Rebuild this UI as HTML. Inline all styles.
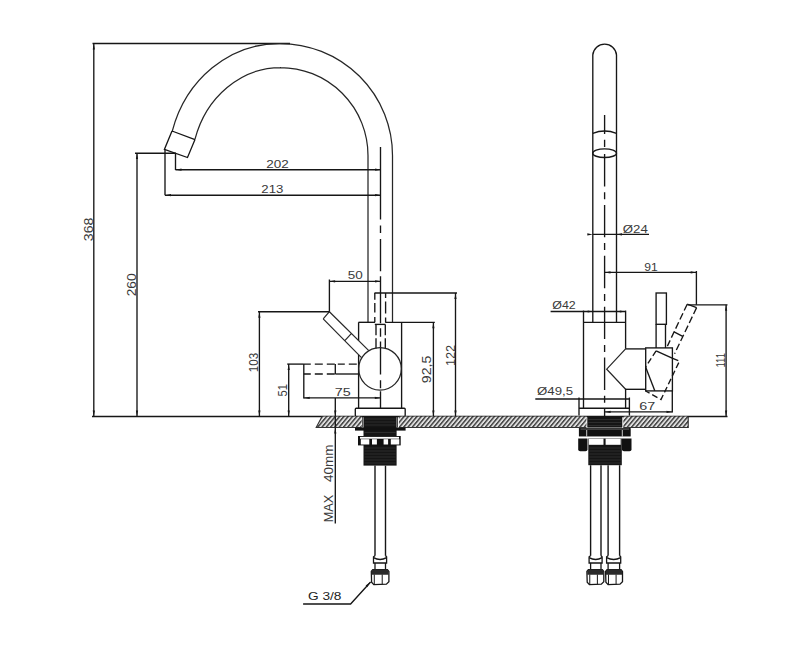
<!DOCTYPE html>
<html><head><meta charset="utf-8"><style>
html,body{margin:0;padding:0;background:#fff;}
svg{display:block;}
</style></head><body>
<svg width="800" height="669" viewBox="0 0 800 669" font-family="Liberation Sans, sans-serif">
<rect width="800" height="669" fill="#fff"/>
<line x1="92.5" y1="43.5" x2="290" y2="43.5" stroke="#161616" stroke-width="1.35"/>
<line x1="93.8" y1="43.5" x2="93.8" y2="416.5" stroke="#161616" stroke-width="1.35"/>
<polygon points="93.8,44 92.7,49.5 94.9,49.5" fill="#161616" stroke="none" stroke-width="0"/>
<polygon points="93.8,416 92.7,410.5 94.9,410.5" fill="#161616" stroke="none" stroke-width="0"/>
<text transform="translate(92.8,241.2) rotate(-90)" font-size="12.5" fill="#3a3a3a" font-family="Liberation Sans" textLength="23.5" lengthAdjust="spacingAndGlyphs">368</text>
<line x1="92" y1="416.5" x2="727.5" y2="416.5" stroke="#161616" stroke-width="1.3"/>
<path d="M172,130.9 L172.34,130.9 A111.1,120.3 0 0 1 279.2,43.5 L280,43.5 A112.5,112 0 0 1 392.5,155.5 L392.5,322.3" stroke="#262626" stroke-width="1.25" fill="none"/>
<path d="M195,139.4 L194.93,139.4 A89.5,99.6 0 0 1 280.9,67.5 L280,67.5 A88,88 0 0 1 368,155.5 L368,322.3" stroke="#262626" stroke-width="1.25" fill="none"/>
<path d="M172,131 L195,139.6 M172,131 L164.4,149.4 L187.5,157.5 L195,139.6" stroke="#161616" stroke-width="1.3" fill="none"/>
<line x1="135" y1="153.2" x2="176" y2="153.2" stroke="#161616" stroke-width="1.35"/>
<line x1="137" y1="153.2" x2="137" y2="416.5" stroke="#161616" stroke-width="1.35"/>
<polygon points="137,153.5 135.9,159 138.1,159" fill="#161616" stroke="none" stroke-width="0"/>
<polygon points="137,416 135.9,410.5 138.1,410.5" fill="#161616" stroke="none" stroke-width="0"/>
<text transform="translate(136.2,296.3) rotate(-90)" font-size="12.5" fill="#3a3a3a" font-family="Liberation Sans" textLength="23" lengthAdjust="spacingAndGlyphs">260</text>
<line x1="175.5" y1="153.2" x2="175.5" y2="170" stroke="#161616" stroke-width="1.35"/>
<line x1="175.5" y1="169.7" x2="380.6" y2="169.7" stroke="#161616" stroke-width="1.35"/>
<polygon points="380.6,169.7 375.1,168.6 375.1,170.8" fill="#161616" stroke="none" stroke-width="0"/>
<polygon points="176,169.7 181.5,168.6 181.5,170.8" fill="#161616" stroke="none" stroke-width="0"/>
<text x="266.3" y="167.8" font-size="11.5" fill="#3a3a3a" font-family="Liberation Sans" textLength="22.5" lengthAdjust="spacingAndGlyphs">202</text>
<line x1="165" y1="149.5" x2="165" y2="195.3" stroke="#161616" stroke-width="1.35"/>
<line x1="165" y1="195.2" x2="380.6" y2="195.2" stroke="#161616" stroke-width="1.35"/>
<polygon points="380.6,195.2 375.1,194.1 375.1,196.3" fill="#161616" stroke="none" stroke-width="0"/>
<polygon points="165.5,195.2 171,194.1 171,196.3" fill="#161616" stroke="none" stroke-width="0"/>
<text x="261.3" y="193.3" font-size="11.5" fill="#3a3a3a" font-family="Liberation Sans" textLength="22" lengthAdjust="spacingAndGlyphs">213</text>
<line x1="380.5" y1="147" x2="380.5" y2="416" stroke="#161616" stroke-width="1.35" stroke-dasharray="72.4 6.2 7.4 6 32.3 5 47 5 8.4 4.8 33 5.7 8 3 30" stroke-dashoffset="0"/>
<line x1="329.4" y1="279.5" x2="329.4" y2="311.8" stroke="#161616" stroke-width="1.35"/>
<line x1="329.4" y1="281.3" x2="380.6" y2="281.3" stroke="#161616" stroke-width="1.35"/>
<polygon points="380.6,281.3 375.1,280.2 375.1,282.4" fill="#161616" stroke="none" stroke-width="0"/>
<polygon points="329.6,281.3 335.1,280.2 335.1,282.4" fill="#161616" stroke="none" stroke-width="0"/>
<text x="347.7" y="278.9" font-size="11.5" fill="#3a3a3a" font-family="Liberation Sans" textLength="15" lengthAdjust="spacingAndGlyphs">50</text>
<line x1="374.5" y1="293" x2="457" y2="293" stroke="#161616" stroke-width="1.35"/>
<line x1="374.8" y1="293" x2="374.8" y2="322.3" stroke="#161616" stroke-width="1.35" stroke-dasharray="6.8 3.2 9.4 4.7 6" stroke-dashoffset="0"/>
<line x1="385.6" y1="293" x2="385.6" y2="322.3" stroke="#161616" stroke-width="1.35" stroke-dasharray="5 3.5 12 4 6" stroke-dashoffset="0"/>
<line x1="374.8" y1="324.4" x2="385.4" y2="324.4" stroke="#161616" stroke-width="1.35"/>
<line x1="376" y1="324.4" x2="376" y2="348.5" stroke="#161616" stroke-width="1.35" stroke-dasharray="10.9 2.9 12" stroke-dashoffset="0"/>
<line x1="385.3" y1="324.4" x2="385.3" y2="348.5" stroke="#161616" stroke-width="1.35" stroke-dasharray="10.9 2.9 12" stroke-dashoffset="0"/>
<line x1="358.5" y1="322.3" x2="375" y2="322.3" stroke="#161616" stroke-width="1.35"/>
<line x1="385.2" y1="322.3" x2="434.8" y2="322.3" stroke="#161616" stroke-width="1.35"/>
<line x1="358.6" y1="322.3" x2="358.6" y2="340.6" stroke="#161616" stroke-width="1.35"/>
<line x1="358.6" y1="354.8" x2="358.6" y2="408.2" stroke="#161616" stroke-width="1.35"/>
<line x1="401.6" y1="322.3" x2="401.6" y2="408.2" stroke="#161616" stroke-width="1.35"/>
<line x1="433.4" y1="322.3" x2="433.4" y2="416.5" stroke="#161616" stroke-width="1.35"/>
<polygon points="433.4,322.8 432.3,328.3 434.5,328.3" fill="#161616" stroke="none" stroke-width="0"/>
<polygon points="433.4,416 432.3,410.5 434.5,410.5" fill="#161616" stroke="none" stroke-width="0"/>
<text transform="translate(430.8,383.2) rotate(-90)" font-size="12.5" fill="#3a3a3a" font-family="Liberation Sans" textLength="27.5" lengthAdjust="spacingAndGlyphs">92,5</text>
<line x1="455.5" y1="293" x2="455.5" y2="416.5" stroke="#161616" stroke-width="1.35"/>
<polygon points="455.5,293.5 454.4,299 456.6,299" fill="#161616" stroke="none" stroke-width="0"/>
<polygon points="455.5,416 454.4,410.5 456.6,410.5" fill="#161616" stroke="none" stroke-width="0"/>
<text transform="translate(454.9,366.1) rotate(-90)" font-size="12.5" fill="#3a3a3a" font-family="Liberation Sans" textLength="21.3" lengthAdjust="spacingAndGlyphs">122</text>
<circle cx="380" cy="368.8" r="21.3" fill="none" stroke="#262626" stroke-width="1.25"/>
<path d="M329.4,311.7 L368.8,350.6 M323.2,318.9 L361.2,357.4 M329.4,311.7 L323.2,318.9 M344.8,340.7 L351.3,333.6" stroke="#2a2a2a" stroke-width="1.25" fill="none"/>
<line x1="258" y1="311.7" x2="329.4" y2="311.7" stroke="#161616" stroke-width="1.35"/>
<line x1="259.4" y1="311.7" x2="259.4" y2="416.5" stroke="#161616" stroke-width="1.35"/>
<polygon points="259.4,312.2 258.3,317.7 260.5,317.7" fill="#161616" stroke="none" stroke-width="0"/>
<polygon points="259.4,416 258.3,410.5 260.5,410.5" fill="#161616" stroke="none" stroke-width="0"/>
<text transform="translate(258.1,372.2) rotate(-90)" font-size="12.5" fill="#3a3a3a" font-family="Liberation Sans" textLength="19.3" lengthAdjust="spacingAndGlyphs">103</text>
<line x1="287.2" y1="364.1" x2="303.8" y2="364.1" stroke="#161616" stroke-width="1.35"/>
<line x1="303.8" y1="364.1" x2="358.6" y2="364.1" stroke="#161616" stroke-width="1.35" stroke-dasharray="7 4 8 4 8 3" stroke-dashoffset="0"/>
<line x1="303.8" y1="374" x2="335.3" y2="374" stroke="#161616" stroke-width="1.35" stroke-dasharray="7 4 8 4 8 3" stroke-dashoffset="0"/>
<line x1="335.3" y1="374" x2="358.6" y2="374" stroke="#161616" stroke-width="1.35"/>
<line x1="303.8" y1="364.1" x2="303.8" y2="398.5" stroke="#161616" stroke-width="1.35"/>
<line x1="335.3" y1="364.1" x2="335.3" y2="374" stroke="#161616" stroke-width="1.35"/>
<line x1="288.7" y1="364.1" x2="288.7" y2="416.5" stroke="#161616" stroke-width="1.35"/>
<polygon points="288.7,364.6 287.6,370.1 289.8,370.1" fill="#161616" stroke="none" stroke-width="0"/>
<polygon points="288.7,416 287.6,410.5 289.8,410.5" fill="#161616" stroke="none" stroke-width="0"/>
<text transform="translate(287.2,396.5) rotate(-90)" font-size="12.5" fill="#3a3a3a" font-family="Liberation Sans" textLength="12.5" lengthAdjust="spacingAndGlyphs">51</text>
<line x1="303.8" y1="397.9" x2="380.6" y2="397.9" stroke="#161616" stroke-width="1.35"/>
<polygon points="380.3,397.9 374.8,396.8 374.8,399" fill="#161616" stroke="none" stroke-width="0"/>
<polygon points="304.2,397.9 309.7,396.8 309.7,399" fill="#161616" stroke="none" stroke-width="0"/>
<text x="334.8" y="395.8" font-size="11.5" fill="#3a3a3a" font-family="Liberation Sans" textLength="16" lengthAdjust="spacingAndGlyphs">75</text>
<rect x="355.3" y="408.2" width="49.9" height="8.1" fill="#fff" stroke="#161616" stroke-width="1.35" rx="1"/>
<line x1="335.3" y1="398" x2="335.3" y2="523.6" stroke="#161616" stroke-width="1.35"/>
<polygon points="335.3,416 334.2,410.5 336.4,410.5" fill="#161616" stroke="none" stroke-width="0"/>
<polygon points="335.3,428 334.2,433.5 336.4,433.5" fill="#161616" stroke="none" stroke-width="0"/>
<text transform="translate(333.2,522.3) rotate(-90)" font-size="12.5" fill="#3a3a3a" font-family="Liberation Sans" textLength="27.5" lengthAdjust="spacingAndGlyphs">MAX</text>
<text transform="translate(333.2,482) rotate(-90)" font-size="12.5" fill="#3a3a3a" font-family="Liberation Sans" textLength="37.5" lengthAdjust="spacingAndGlyphs">40mm</text>
<defs><pattern id="h" patternUnits="userSpaceOnUse" width="4.3" height="12" patternTransform="skewX(-40)">
<rect x="0" y="0" width="4.3" height="12" fill="#e2e2e2"/><rect x="0" y="0" width="2.1" height="12" fill="#4a4a4a"/></pattern></defs>
<polygon points="322,416.5 361.7,416.5 361.7,427.8 316.2,427.8" fill="url(#h)" stroke="none" stroke-width="0"/>
<polygon points="398.9,416.5 586.5,416.5 586.5,427.8 398.9,427.8" fill="url(#h)" stroke="none" stroke-width="0"/>
<polygon points="623.3,416.5 688.2,416.5 688.2,427.8 623.3,427.8" fill="url(#h)" stroke="none" stroke-width="0"/>
<path d="M322,416.5 L316.2,427.5 L361.7,427.5" stroke="#333" stroke-width="1.1" fill="none"/>
<line x1="398.9" y1="427.5" x2="586.5" y2="427.5" stroke="#333" stroke-width="1.1"/>
<line x1="623.3" y1="427.5" x2="688.2" y2="427.5" stroke="#333" stroke-width="1.1"/>
<line x1="335.3" y1="416.5" x2="335.3" y2="427.8" stroke="#161616" stroke-width="1.35"/>
<line x1="688.2" y1="416.5" x2="688.2" y2="428" stroke="#161616" stroke-width="1"/>
<rect x="363.5" y="416.5" width="33.1" height="49.1" fill="#151515" stroke="none" stroke-width="1.35" rx="0"/>
<line x1="364.5" y1="419" x2="395.6" y2="419" stroke="#3c3c3c" stroke-width="0.6"/>
<line x1="364.5" y1="422" x2="395.6" y2="422" stroke="#3c3c3c" stroke-width="0.6"/>
<line x1="364.5" y1="425" x2="395.6" y2="425" stroke="#3c3c3c" stroke-width="0.6"/>
<line x1="364.5" y1="432.5" x2="395.6" y2="432.5" stroke="#3c3c3c" stroke-width="0.6"/>
<line x1="364.5" y1="448" x2="395.6" y2="448" stroke="#3c3c3c" stroke-width="0.6"/>
<line x1="364.5" y1="451" x2="395.6" y2="451" stroke="#3c3c3c" stroke-width="0.6"/>
<line x1="364.5" y1="454" x2="395.6" y2="454" stroke="#3c3c3c" stroke-width="0.6"/>
<line x1="364.5" y1="457" x2="395.6" y2="457" stroke="#3c3c3c" stroke-width="0.6"/>
<line x1="364.5" y1="460" x2="395.6" y2="460" stroke="#3c3c3c" stroke-width="0.6"/>
<line x1="364.5" y1="463" x2="395.6" y2="463" stroke="#3c3c3c" stroke-width="0.6"/>
<line x1="362.6" y1="416.5" x2="362.6" y2="427.5" stroke="#161616" stroke-width="0.8"/>
<line x1="397.5" y1="416.5" x2="397.5" y2="427.5" stroke="#161616" stroke-width="0.8"/>
<rect x="355" y="427.5" width="50.6" height="3.1" fill="#111" stroke="none" stroke-width="1.35" rx="0"/>
<rect x="358" y="436" width="42.7" height="9.4" fill="#111" stroke="none" stroke-width="1.35" rx="0"/>
<rect x="360" y="436.9" width="39" height="1.8" fill="#fff" stroke="none" stroke-width="1.35" rx="0"/>
<rect x="360.8" y="439.2" width="8.5" height="5.3" fill="#fff" stroke="none" stroke-width="1.35" rx="0"/>
<rect x="372" y="439.2" width="4.9" height="5.3" fill="#fff" stroke="none" stroke-width="1.35" rx="0"/>
<rect x="383.6" y="439.2" width="4.5" height="5.3" fill="#fff" stroke="none" stroke-width="1.35" rx="0"/>
<rect x="390.8" y="439.2" width="8.5" height="5.3" fill="#fff" stroke="none" stroke-width="1.35" rx="0"/>
<line x1="375" y1="465.6" x2="375" y2="556.3" stroke="#161616" stroke-width="1.4"/>
<line x1="385.5" y1="465.6" x2="385.5" y2="556.3" stroke="#161616" stroke-width="1.4"/>
<path d="M375,555.8 L373.5,556.8 L373.5,563 L386.6,563 L386.6,556.8 L385.5,555.8" stroke="#161616" stroke-width="1.3" fill="#fff"/>
<path d="M373.5,557.6 Q380.05,561.2 386.6,557.6" stroke="#161616" stroke-width="1.5" fill="none"/>
<line x1="375" y1="563" x2="375" y2="569.6" stroke="#161616" stroke-width="1.3"/>
<line x1="385.5" y1="563" x2="385.5" y2="569.6" stroke="#161616" stroke-width="1.3"/>
<path d="M371.3,571.5 L372.8,569.6 L387.4,569.6 L388.9,571.5 L388.9,581.8 L386.4,584.2 L373.8,584.6 L371.6,582.3 Z" stroke="#161616" stroke-width="1.3" fill="#fff"/>
<polygon points="371.6,571.3 372.8,569.6 387.4,569.6 388.6,571.3 388.6,574.8 371.6,574.8" fill="#2a2a2a" stroke="none" stroke-width="0"/>
<line x1="374.29" y1="574.5" x2="374.29" y2="584.4" stroke="#161616" stroke-width="1.0"/>
<line x1="382.21" y1="574.5" x2="382.21" y2="584.4" stroke="#161616" stroke-width="1.0"/>
<path d="M303.1,604 L350.6,604 L370.6,582" stroke="#161616" stroke-width="1.35" fill="none"/>
<polygon points="370.8,581.8 365.6,585.6 367.2,587.2" fill="#161616" stroke="none" stroke-width="0"/>
<text x="308" y="600.2" font-size="11.3" fill="#222" font-family="Liberation Sans" textLength="33.5" lengthAdjust="spacingAndGlyphs">G 3/8</text>
<path d="M592.8,322.3 L592.8,55 A11.9,11.9 0 0 1 616.5,55 L616.5,322.3" stroke="#161616" stroke-width="1.35" fill="none"/>
<path d="M592.8,133.3 Q604.6,128.7 616.5,133.3" stroke="#161616" stroke-width="1.35" fill="none"/>
<ellipse cx="604.6" cy="153.2" rx="11.9" ry="4.3" fill="none" stroke="#161616" stroke-width="1.35"/>
<line x1="604.6" y1="115" x2="604.6" y2="416" stroke="#161616" stroke-width="1.35" stroke-dasharray="19.1 5.7 7.3 6.9 32.4 5.8 7 5.7 32.4 5.8 7 5.7 32.4 5.8 7 5.7 32.4 5.8 7 5.7 32.4 5.8 7 5.7 32.4 5.8 7 5.7" stroke-dashoffset="0"/>
<line x1="593" y1="234.4" x2="649" y2="234.4" stroke="#161616" stroke-width="1.35"/>
<polygon points="592.8,234.4 587.3,233.3 587.3,235.5" fill="#161616" stroke="none" stroke-width="0"/>
<polygon points="616.5,234.4 622,233.3 622,235.5" fill="#161616" stroke="none" stroke-width="0"/>
<text x="622.8" y="233.2" font-size="11.5" fill="#3a3a3a" font-family="Liberation Sans" textLength="25" lengthAdjust="spacingAndGlyphs">Ø24</text>
<line x1="604.8" y1="272.4" x2="696.4" y2="272.4" stroke="#161616" stroke-width="1.35"/>
<polygon points="605,272.4 610.5,271.3 610.5,273.5" fill="#161616" stroke="none" stroke-width="0"/>
<polygon points="696.2,272.4 690.7,271.3 690.7,273.5" fill="#161616" stroke="none" stroke-width="0"/>
<line x1="696.4" y1="271" x2="696.4" y2="304.8" stroke="#161616" stroke-width="1.35"/>
<text x="644.3" y="271.2" font-size="11.5" fill="#3a3a3a" font-family="Liberation Sans" textLength="13.5" lengthAdjust="spacingAndGlyphs">91</text>
<line x1="550.6" y1="311.5" x2="625.6" y2="311.5" stroke="#161616" stroke-width="1.35"/>
<polygon points="583.8,311.5 589.3,310.4 589.3,312.6" fill="#161616" stroke="none" stroke-width="0"/>
<polygon points="625.3,311.5 619.8,310.4 619.8,312.6" fill="#161616" stroke="none" stroke-width="0"/>
<text x="552.3" y="308.9" font-size="11.5" fill="#3a3a3a" font-family="Liberation Sans" textLength="23.5" lengthAdjust="spacingAndGlyphs">Ø42</text>
<line x1="583.5" y1="310.6" x2="583.5" y2="408.2" stroke="#161616" stroke-width="1.35"/>
<line x1="625.6" y1="310.6" x2="625.6" y2="348.8" stroke="#161616" stroke-width="1.35"/>
<line x1="625.6" y1="388.8" x2="625.6" y2="408.2" stroke="#161616" stroke-width="1.35"/>
<line x1="583.5" y1="322.3" x2="625.6" y2="322.3" stroke="#161616" stroke-width="1.35"/>
<path d="M625.6,348.8 L606.7,369.2 L625.6,389.3" stroke="#262626" stroke-width="1.25" fill="none"/>
<line x1="625.6" y1="348.9" x2="645.7" y2="348.9" stroke="#161616" stroke-width="1.35"/>
<line x1="625.6" y1="389.3" x2="645.7" y2="389.3" stroke="#161616" stroke-width="1.35"/>
<rect x="656.1" y="293" width="10.3" height="31.3" fill="none" stroke="#161616" stroke-width="1.35" rx="0"/>
<line x1="656.1" y1="324.3" x2="656.1" y2="348" stroke="#161616" stroke-width="1.35"/>
<line x1="665.5" y1="324.3" x2="665.5" y2="348" stroke="#161616" stroke-width="1.35"/>
<rect x="645.7" y="347.9" width="26.7" height="43" fill="none" stroke="#161616" stroke-width="1.35" rx="0"/>
<path d="M656.1,350.8 L672.7,358.4" stroke="#161616" stroke-width="1.35" fill="none"/>
<path d="M645.6,367 L654.8,390.7" stroke="#161616" stroke-width="1.35" fill="none"/>
<path d="M672.7,358.4 L679.5,361.1 L661,399.5 L645.6,391 M656.1,350.8 L645.6,367" stroke="#161616" stroke-width="1.35" fill="none" stroke-dasharray="6 3"/>
<path d="M696.6,307.6 L674.6,353.7 M687.2,304.2 L667.4,346.1" stroke="#161616" stroke-width="1.35" fill="none" stroke-dasharray="7 3"/>
<path d="M687.2,304.2 L696.6,307.6 M674.1,331.8 L682.7,336.3" stroke="#161616" stroke-width="1.35" fill="none"/>
<line x1="687.5" y1="304.8" x2="727.5" y2="304.8" stroke="#161616" stroke-width="1.35"/>
<line x1="726.1" y1="304.8" x2="726.1" y2="416.5" stroke="#161616" stroke-width="1.35"/>
<polygon points="726.1,305.3 725,310.8 727.2,310.8" fill="#161616" stroke="none" stroke-width="0"/>
<polygon points="726.1,416 725,410.5 727.2,410.5" fill="#161616" stroke="none" stroke-width="0"/>
<text transform="translate(724.7,367.5) rotate(-90)" font-size="12.5" fill="#3a3a3a" font-family="Liberation Sans" textLength="14.5" lengthAdjust="spacingAndGlyphs">111</text>
<line x1="535.3" y1="399" x2="629.4" y2="399" stroke="#161616" stroke-width="1.35"/>
<text x="537" y="395.4" font-size="11.5" fill="#3a3a3a" font-family="Liberation Sans" textLength="36" lengthAdjust="spacingAndGlyphs">Ø49,5</text>
<line x1="579" y1="397.5" x2="579" y2="415.6" stroke="#161616" stroke-width="1.35"/>
<line x1="629.4" y1="397.5" x2="629.4" y2="415.6" stroke="#161616" stroke-width="1.35"/>
<line x1="579" y1="408.2" x2="629.4" y2="408.2" stroke="#161616" stroke-width="1.35"/>
<line x1="604.8" y1="411.9" x2="672.3" y2="411.9" stroke="#161616" stroke-width="1.35"/>
<polygon points="605.1,411.9 610.6,410.8 610.6,413" fill="#161616" stroke="none" stroke-width="0"/>
<polygon points="672,411.9 666.5,410.8 666.5,413" fill="#161616" stroke="none" stroke-width="0"/>
<line x1="672.3" y1="391" x2="672.3" y2="412.6" stroke="#161616" stroke-width="1.35"/>
<text x="639.3" y="410.2" font-size="11.5" fill="#3a3a3a" font-family="Liberation Sans" textLength="16" lengthAdjust="spacingAndGlyphs">67</text>
<rect x="587.3" y="416.5" width="35" height="11.1" fill="#151515" stroke="none" stroke-width="1.35" rx="0"/>
<line x1="588.3" y1="419.5" x2="621.3" y2="419.5" stroke="#3c3c3c" stroke-width="0.6"/>
<line x1="588.3" y1="422.5" x2="621.3" y2="422.5" stroke="#3c3c3c" stroke-width="0.6"/>
<line x1="588.3" y1="425.5" x2="621.3" y2="425.5" stroke="#3c3c3c" stroke-width="0.6"/>
<rect x="578.9" y="428" width="51.8" height="8.6" fill="#111" stroke="none" stroke-width="1.35" rx="0.5"/>
<rect x="580.5" y="428.7" width="48.6" height="0.7" fill="#888" stroke="none" stroke-width="1.35" rx="0"/>
<line x1="586.7" y1="430" x2="586.7" y2="436.6" stroke="#ddd" stroke-width="0.9"/>
<line x1="622.3" y1="430" x2="622.3" y2="436.6" stroke="#ddd" stroke-width="0.9"/>
<rect x="577.8" y="436.9" width="53.9" height="1.5" fill="#fff" stroke="none" stroke-width="1.35" rx="0"/>
<path d="M578.2,438.4 H587.5 V449.5 Q587.5,451.3 585.5,451.3 H580.2 Q578.2,451.3 578.2,449.5 Z" stroke="#161616" stroke-width="0" fill="#111"/>
<path d="M622,438.4 H631.5 V449.5 Q631.5,451.3 629.5,451.3 H624 Q622,451.3 622,449.5 Z" stroke="#161616" stroke-width="0" fill="#111"/>
<rect x="588.3" y="438.4" width="33.5" height="26.8" fill="#151515" stroke="none" stroke-width="1.35" rx="0"/>
<line x1="589.3" y1="448" x2="620.8" y2="448" stroke="#3c3c3c" stroke-width="0.6"/>
<line x1="589.3" y1="451" x2="620.8" y2="451" stroke="#3c3c3c" stroke-width="0.6"/>
<line x1="589.3" y1="454" x2="620.8" y2="454" stroke="#3c3c3c" stroke-width="0.6"/>
<line x1="589.3" y1="457" x2="620.8" y2="457" stroke="#3c3c3c" stroke-width="0.6"/>
<line x1="589.3" y1="460" x2="620.8" y2="460" stroke="#3c3c3c" stroke-width="0.6"/>
<line x1="589.3" y1="463" x2="620.8" y2="463" stroke="#3c3c3c" stroke-width="0.6"/>
<rect x="588.8" y="438.6" width="14.7" height="6.2" fill="#fff" stroke="none" stroke-width="1.35" rx="0"/>
<rect x="605.6" y="438.6" width="15.1" height="6.2" fill="#fff" stroke="none" stroke-width="1.35" rx="0"/>
<line x1="590.6" y1="465.2" x2="590.6" y2="556.3" stroke="#161616" stroke-width="1.4"/>
<line x1="601" y1="465.2" x2="601" y2="556.3" stroke="#161616" stroke-width="1.4"/>
<path d="M590.6,555.8 L589.1,556.8 L589.1,563 L602.1,563 L602.1,556.8 L601,555.8" stroke="#161616" stroke-width="1.3" fill="#fff"/>
<path d="M589.1,557.6 Q595.6,561.2 602.1,557.6" stroke="#161616" stroke-width="1.5" fill="none"/>
<line x1="590.6" y1="563" x2="590.6" y2="569.6" stroke="#161616" stroke-width="1.3"/>
<line x1="601" y1="563" x2="601" y2="569.6" stroke="#161616" stroke-width="1.3"/>
<path d="M586.9,571.5 L588.4,569.6 L602.3,569.6 L603.8,571.5 L603.8,581.8 L601.3,584.2 L589.4,584.6 L587.2,582.3 Z" stroke="#161616" stroke-width="1.3" fill="#fff"/>
<polygon points="587.2,571.3 588.4,569.6 602.3,569.6 603.5,571.3 603.5,574.8 587.2,574.8" fill="#2a2a2a" stroke="none" stroke-width="0"/>
<line x1="589.77" y1="574.5" x2="589.77" y2="584.4" stroke="#161616" stroke-width="1.0"/>
<line x1="597.38" y1="574.5" x2="597.38" y2="584.4" stroke="#161616" stroke-width="1.0"/>
<line x1="608.1" y1="465.2" x2="608.1" y2="556.3" stroke="#161616" stroke-width="1.4"/>
<line x1="619.6" y1="465.2" x2="619.6" y2="556.3" stroke="#161616" stroke-width="1.4"/>
<path d="M608.1,555.8 L606.6,556.8 L606.6,563 L620.7,563 L620.7,556.8 L619.6,555.8" stroke="#161616" stroke-width="1.3" fill="#fff"/>
<path d="M606.6,557.6 Q613.65,561.2 620.7,557.6" stroke="#161616" stroke-width="1.5" fill="none"/>
<line x1="608.1" y1="563" x2="608.1" y2="569.6" stroke="#161616" stroke-width="1.3"/>
<line x1="619.6" y1="563" x2="619.6" y2="569.6" stroke="#161616" stroke-width="1.3"/>
<path d="M605.6,571.5 L607.1,569.6 L621,569.6 L622.5,571.5 L622.5,581.8 L620,584.2 L608.1,584.6 L605.9,582.3 Z" stroke="#161616" stroke-width="1.3" fill="#fff"/>
<polygon points="605.9,571.3 607.1,569.6 621,569.6 622.2,571.3 622.2,574.8 605.9,574.8" fill="#2a2a2a" stroke="none" stroke-width="0"/>
<line x1="608.47" y1="574.5" x2="608.47" y2="584.4" stroke="#161616" stroke-width="1.0"/>
<line x1="616.08" y1="574.5" x2="616.08" y2="584.4" stroke="#161616" stroke-width="1.0"/>
</svg>
</body></html>
